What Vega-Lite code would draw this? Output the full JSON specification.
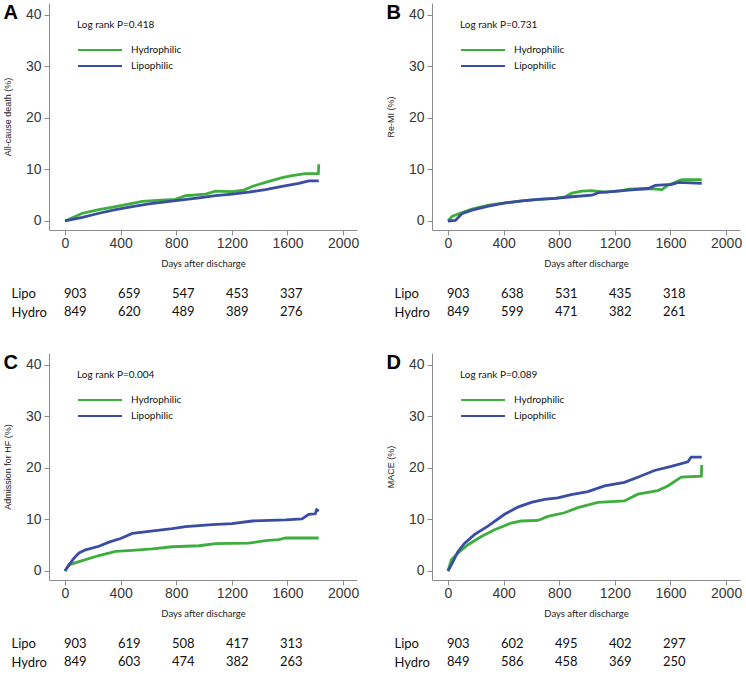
{
  "$schema": "https://vega.github.io/schema/vega-lite/v6.json",
  "padding": {"left": 3, "top": 3, "right": 0, "bottom": 0},
  "columns": 2,
  "spacing": {"row": 40, "column": 75},
  "bounds": "flush",
  "resolve": {"scale": {"color": "independent"}, "legend": {"color": "independent"}},
  "config": {
    "view": {"stroke": null},
    "font": "Lato",
    "axis": {"grid": false, "domainColor": "#8c8c8c", "tickColor": "#8c8c8c", "tickSize": 5, "labelFont": "Liberation Sans", "labelFontSize": 14, "labelColor": "#383838", "labelFlush": false, "labelOverlap": false, "titleFontWeight": "normal", "titleColor": "#222"},
    "axisX": {"labelPadding": 1, "titleFont": "Lato", "titleFontSize": 9.5, "titlePadding": 8, "format": "d"},
    "axisY": {"labelPadding": 3, "titleFont": "Liberation Sans", "titleFontSize": 9, "titlePadding": 13},
    "legend": {"orient": "none", "legendX": 28, "legendY": 17, "symbolType": "stroke", "symbolSize": 1936, "symbolStrokeWidth": 2, "clipHeight": 16, "rowPadding": 0, "padding": 0, "labelOffset": 8, "labelFont": "Lato", "labelFontSize": 10, "labelColor": "#111", "titleFont": "Lato", "titleFontSize": 10, "titleFontWeight": "normal", "titleColor": "#111", "titlePadding": 12},
    "title": {"anchor": "start", "frame": "bounds", "font": "Liberation Sans", "fontSize": 20, "fontWeight": "bold", "color": "#000", "offset": 0}
  },
  "datasets": {
    "km": [
      {"p":"A","g":"Hydrophilic","d":0,"v":0},{"p":"A","g":"Hydrophilic","d":125,"v":1.5},{"p":"A","g":"Hydrophilic","d":244,"v":2.2},{"p":"A","g":"Hydrophilic","d":364,"v":2.8},{"p":"A","g":"Hydrophilic","d":484,"v":3.4},{"p":"A","g":"Hydrophilic","d":556,"v":3.8},{"p":"A","g":"Hydrophilic","d":723,"v":4.1},{"p":"A","g":"Hydrophilic","d":795,"v":4.2},{"p":"A","g":"Hydrophilic","d":867,"v":4.9},{"p":"A","g":"Hydrophilic","d":1011,"v":5.2},{"p":"A","g":"Hydrophilic","d":1083,"v":5.8},{"p":"A","g":"Hydrophilic","d":1202,"v":5.7},{"p":"A","g":"Hydrophilic","d":1286,"v":6.0},{"p":"A","g":"Hydrophilic","d":1346,"v":6.7},{"p":"A","g":"Hydrophilic","d":1442,"v":7.5},{"p":"A","g":"Hydrophilic","d":1562,"v":8.4},{"p":"A","g":"Hydrophilic","d":1633,"v":8.8},{"p":"A","g":"Hydrophilic","d":1729,"v":9.2},{"p":"A","g":"Hydrophilic","d":1822,"v":9.2},{"p":"A","g":"Hydrophilic","d":1825,"v":11.0},
      {"p":"A","g":"Lipophilic","d":0,"v":0},{"p":"A","g":"Lipophilic","d":125,"v":0.7},{"p":"A","g":"Lipophilic","d":244,"v":1.5},{"p":"A","g":"Lipophilic","d":364,"v":2.2},{"p":"A","g":"Lipophilic","d":484,"v":2.8},{"p":"A","g":"Lipophilic","d":604,"v":3.3},{"p":"A","g":"Lipophilic","d":723,"v":3.7},{"p":"A","g":"Lipophilic","d":843,"v":4.1},{"p":"A","g":"Lipophilic","d":963,"v":4.5},{"p":"A","g":"Lipophilic","d":1083,"v":4.9},{"p":"A","g":"Lipophilic","d":1202,"v":5.2},{"p":"A","g":"Lipophilic","d":1322,"v":5.6},{"p":"A","g":"Lipophilic","d":1442,"v":6.1},{"p":"A","g":"Lipophilic","d":1562,"v":6.7},{"p":"A","g":"Lipophilic","d":1681,"v":7.3},{"p":"A","g":"Lipophilic","d":1753,"v":7.8},{"p":"A","g":"Lipophilic","d":1825,"v":7.8},
      {"p":"B","g":"Hydrophilic","d":0,"v":0},{"p":"B","g":"Hydrophilic","d":29,"v":0.9},{"p":"B","g":"Hydrophilic","d":77,"v":1.4},{"p":"B","g":"Hydrophilic","d":172,"v":2.3},{"p":"B","g":"Hydrophilic","d":292,"v":3.1},{"p":"B","g":"Hydrophilic","d":412,"v":3.5},{"p":"B","g":"Hydrophilic","d":532,"v":3.9},{"p":"B","g":"Hydrophilic","d":651,"v":4.2},{"p":"B","g":"Hydrophilic","d":771,"v":4.4},{"p":"B","g":"Hydrophilic","d":843,"v":4.7},{"p":"B","g":"Hydrophilic","d":891,"v":5.4},{"p":"B","g":"Hydrophilic","d":963,"v":5.8},{"p":"B","g":"Hydrophilic","d":1035,"v":5.9},{"p":"B","g":"Hydrophilic","d":1131,"v":5.6},{"p":"B","g":"Hydrophilic","d":1250,"v":5.9},{"p":"B","g":"Hydrophilic","d":1298,"v":6.2},{"p":"B","g":"Hydrophilic","d":1442,"v":6.3},{"p":"B","g":"Hydrophilic","d":1538,"v":6.1},{"p":"B","g":"Hydrophilic","d":1586,"v":7.0},{"p":"B","g":"Hydrophilic","d":1681,"v":8.0},{"p":"B","g":"Hydrophilic","d":1825,"v":8.0},
      {"p":"B","g":"Lipophilic","d":0,"v":0},{"p":"B","g":"Lipophilic","d":53,"v":0.1},{"p":"B","g":"Lipophilic","d":100,"v":1.4},{"p":"B","g":"Lipophilic","d":172,"v":2.1},{"p":"B","g":"Lipophilic","d":292,"v":2.9},{"p":"B","g":"Lipophilic","d":412,"v":3.5},{"p":"B","g":"Lipophilic","d":532,"v":3.9},{"p":"B","g":"Lipophilic","d":651,"v":4.2},{"p":"B","g":"Lipophilic","d":771,"v":4.4},{"p":"B","g":"Lipophilic","d":891,"v":4.7},{"p":"B","g":"Lipophilic","d":1035,"v":5.0},{"p":"B","g":"Lipophilic","d":1083,"v":5.5},{"p":"B","g":"Lipophilic","d":1178,"v":5.7},{"p":"B","g":"Lipophilic","d":1298,"v":6.0},{"p":"B","g":"Lipophilic","d":1442,"v":6.3},{"p":"B","g":"Lipophilic","d":1490,"v":6.9},{"p":"B","g":"Lipophilic","d":1610,"v":7.1},{"p":"B","g":"Lipophilic","d":1657,"v":7.5},{"p":"B","g":"Lipophilic","d":1825,"v":7.3},
      {"p":"C","g":"Hydrophilic","d":0,"v":0},{"p":"C","g":"Hydrophilic","d":29,"v":1.2},{"p":"C","g":"Hydrophilic","d":101,"v":1.8},{"p":"C","g":"Hydrophilic","d":244,"v":3.0},{"p":"C","g":"Hydrophilic","d":364,"v":3.8},{"p":"C","g":"Hydrophilic","d":484,"v":4.0},{"p":"C","g":"Hydrophilic","d":628,"v":4.3},{"p":"C","g":"Hydrophilic","d":771,"v":4.7},{"p":"C","g":"Hydrophilic","d":963,"v":4.9},{"p":"C","g":"Hydrophilic","d":1083,"v":5.3},{"p":"C","g":"Hydrophilic","d":1322,"v":5.4},{"p":"C","g":"Hydrophilic","d":1442,"v":5.9},{"p":"C","g":"Hydrophilic","d":1538,"v":6.1},{"p":"C","g":"Hydrophilic","d":1586,"v":6.4},{"p":"C","g":"Hydrophilic","d":1825,"v":6.4},
      {"p":"C","g":"Lipophilic","d":0,"v":0},{"p":"C","g":"Lipophilic","d":29,"v":1.2},{"p":"C","g":"Lipophilic","d":65,"v":2.5},{"p":"C","g":"Lipophilic","d":101,"v":3.5},{"p":"C","g":"Lipophilic","d":148,"v":4.1},{"p":"C","g":"Lipophilic","d":244,"v":4.8},{"p":"C","g":"Lipophilic","d":316,"v":5.6},{"p":"C","g":"Lipophilic","d":400,"v":6.3},{"p":"C","g":"Lipophilic","d":484,"v":7.3},{"p":"C","g":"Lipophilic","d":604,"v":7.7},{"p":"C","g":"Lipophilic","d":771,"v":8.2},{"p":"C","g":"Lipophilic","d":867,"v":8.6},{"p":"C","g":"Lipophilic","d":1059,"v":9.0},{"p":"C","g":"Lipophilic","d":1202,"v":9.2},{"p":"C","g":"Lipophilic","d":1346,"v":9.7},{"p":"C","g":"Lipophilic","d":1586,"v":9.9},{"p":"C","g":"Lipophilic","d":1705,"v":10.1},{"p":"C","g":"Lipophilic","d":1753,"v":11.0},{"p":"C","g":"Lipophilic","d":1800,"v":11.1},{"p":"C","g":"Lipophilic","d":1810,"v":11.9},{"p":"C","g":"Lipophilic","d":1825,"v":11.6},
      {"p":"D","g":"Hydrophilic","d":0,"v":0},{"p":"D","g":"Hydrophilic","d":24,"v":2.2},{"p":"D","g":"Hydrophilic","d":72,"v":3.5},{"p":"D","g":"Hydrophilic","d":144,"v":5.1},{"p":"D","g":"Hydrophilic","d":240,"v":6.7},{"p":"D","g":"Hydrophilic","d":335,"v":8.0},{"p":"D","g":"Hydrophilic","d":455,"v":9.3},{"p":"D","g":"Hydrophilic","d":527,"v":9.7},{"p":"D","g":"Hydrophilic","d":647,"v":9.8},{"p":"D","g":"Hydrophilic","d":719,"v":10.6},{"p":"D","g":"Hydrophilic","d":838,"v":11.3},{"p":"D","g":"Hydrophilic","d":934,"v":12.3},{"p":"D","g":"Hydrophilic","d":1078,"v":13.3},{"p":"D","g":"Hydrophilic","d":1269,"v":13.6},{"p":"D","g":"Hydrophilic","d":1365,"v":14.9},{"p":"D","g":"Hydrophilic","d":1509,"v":15.6},{"p":"D","g":"Hydrophilic","d":1581,"v":16.5},{"p":"D","g":"Hydrophilic","d":1677,"v":18.2},{"p":"D","g":"Hydrophilic","d":1822,"v":18.4},{"p":"D","g":"Hydrophilic","d":1825,"v":20.6},
      {"p":"D","g":"Lipophilic","d":0,"v":0},{"p":"D","g":"Lipophilic","d":36,"v":1.8},{"p":"D","g":"Lipophilic","d":72,"v":3.8},{"p":"D","g":"Lipophilic","d":120,"v":5.4},{"p":"D","g":"Lipophilic","d":192,"v":7.1},{"p":"D","g":"Lipophilic","d":287,"v":8.7},{"p":"D","g":"Lipophilic","d":407,"v":11.0},{"p":"D","g":"Lipophilic","d":503,"v":12.4},{"p":"D","g":"Lipophilic","d":599,"v":13.3},{"p":"D","g":"Lipophilic","d":695,"v":13.9},{"p":"D","g":"Lipophilic","d":790,"v":14.2},{"p":"D","g":"Lipophilic","d":886,"v":14.8},{"p":"D","g":"Lipophilic","d":1006,"v":15.4},{"p":"D","g":"Lipophilic","d":1126,"v":16.5},{"p":"D","g":"Lipophilic","d":1269,"v":17.2},{"p":"D","g":"Lipophilic","d":1365,"v":18.2},{"p":"D","g":"Lipophilic","d":1485,"v":19.5},{"p":"D","g":"Lipophilic","d":1605,"v":20.3},{"p":"D","g":"Lipophilic","d":1725,"v":21.2},{"p":"D","g":"Lipophilic","d":1749,"v":22.1},{"p":"D","g":"Lipophilic","d":1825,"v":22.1}
    ],
    "risk": [
      {"p":"A","g":"Lipo","d":0,"n":903},{"p":"A","g":"Lipo","d":400,"n":659},{"p":"A","g":"Lipo","d":800,"n":547},{"p":"A","g":"Lipo","d":1200,"n":453},{"p":"A","g":"Lipo","d":1600,"n":337},
      {"p":"A","g":"Hydro","d":0,"n":849},{"p":"A","g":"Hydro","d":400,"n":620},{"p":"A","g":"Hydro","d":800,"n":489},{"p":"A","g":"Hydro","d":1200,"n":389},{"p":"A","g":"Hydro","d":1600,"n":276},
      {"p":"B","g":"Lipo","d":0,"n":903},{"p":"B","g":"Lipo","d":400,"n":638},{"p":"B","g":"Lipo","d":800,"n":531},{"p":"B","g":"Lipo","d":1200,"n":435},{"p":"B","g":"Lipo","d":1600,"n":318},
      {"p":"B","g":"Hydro","d":0,"n":849},{"p":"B","g":"Hydro","d":400,"n":599},{"p":"B","g":"Hydro","d":800,"n":471},{"p":"B","g":"Hydro","d":1200,"n":382},{"p":"B","g":"Hydro","d":1600,"n":261},
      {"p":"C","g":"Lipo","d":0,"n":903},{"p":"C","g":"Lipo","d":400,"n":619},{"p":"C","g":"Lipo","d":800,"n":508},{"p":"C","g":"Lipo","d":1200,"n":417},{"p":"C","g":"Lipo","d":1600,"n":313},
      {"p":"C","g":"Hydro","d":0,"n":849},{"p":"C","g":"Hydro","d":400,"n":603},{"p":"C","g":"Hydro","d":800,"n":474},{"p":"C","g":"Hydro","d":1200,"n":382},{"p":"C","g":"Hydro","d":1600,"n":263},
      {"p":"D","g":"Lipo","d":0,"n":903},{"p":"D","g":"Lipo","d":400,"n":602},{"p":"D","g":"Lipo","d":800,"n":495},{"p":"D","g":"Lipo","d":1200,"n":402},{"p":"D","g":"Lipo","d":1600,"n":297},
      {"p":"D","g":"Hydro","d":0,"n":849},{"p":"D","g":"Hydro","d":400,"n":586},{"p":"D","g":"Hydro","d":800,"n":458},{"p":"D","g":"Hydro","d":1200,"n":369},{"p":"D","g":"Hydro","d":1600,"n":250}
    ]
  },
  "concat": [
    {
      "width": 308, "height": 227,
      "title": {"text": "A", "dy": 24},
      "data": {"name": "km"},
      "transform": [{"filter": "datum.p == 'A'"}],
      "mark": {"type": "line", "strokeWidth": 2.8},
      "encoding": {
        "x": {"field": "d", "type": "quantitative", "scale": {"domain": [-115, 2100], "nice": false, "zero": false}, "axis": {"values": [0, 400, 800, 1200, 1600, 2000], "title": "Days after discharge"}},
        "y": {"field": "v", "type": "quantitative", "scale": {"domain": [-1.75, 42.3], "nice": false, "zero": false}, "axis": {"values": [0, 10, 20, 30, 40], "title": "All-cause death (%)"}},
        "color": {"field": "g", "type": "nominal", "scale": {"domain": ["Hydrophilic", "Lipophilic"], "range": ["#3dae3d", "#3b4da3"]}, "legend": {"title": "Log rank P=0.418"}}
      }
    },
    {
      "width": 308, "height": 227,
      "title": {"text": "B", "dy": 24},
      "data": {"name": "km"},
      "transform": [{"filter": "datum.p == 'B'"}],
      "mark": {"type": "line", "strokeWidth": 2.8},
      "encoding": {
        "x": {"field": "d", "type": "quantitative", "scale": {"domain": [-115, 2100], "nice": false, "zero": false}, "axis": {"values": [0, 400, 800, 1200, 1600, 2000], "title": "Days after discharge"}},
        "y": {"field": "v", "type": "quantitative", "scale": {"domain": [-1.75, 42.3], "nice": false, "zero": false}, "axis": {"values": [0, 10, 20, 30, 40], "title": "Re-MI (%)"}},
        "color": {"field": "g", "type": "nominal", "scale": {"domain": ["Hydrophilic", "Lipophilic"], "range": ["#3dae3d", "#3b4da3"]}, "legend": {"title": "Log rank P=0.731"}}
      }
    },
    {
      "width": 308, "height": 43,
      "data": {"name": "risk"},
      "transform": [{"filter": "datum.p == 'A'"}],
      "mark": {"type": "text", "align": "left", "baseline": "middle", "font": "Lato", "fontSize": 13, "color": "#111"},
      "encoding": {
        "x": {"field": "d", "type": "quantitative", "scale": {"domain": [-111, 2170], "nice": false, "zero": false}, "axis": null},
        "y": {"field": "g", "type": "ordinal", "scale": {"type": "point", "domain": ["Lipo", "Hydro"], "padding": 0.694, "align": 0.96}, "axis": {"title": null, "domain": false, "ticks": false, "tickSize": 0, "labelAlign": "left", "labelPadding": 38, "labelFont": "Lato", "labelFontSize": 13, "labelColor": "#111"}},
        "text": {"field": "n", "type": "quantitative"}
      }
    },
    {
      "width": 308, "height": 43,
      "data": {"name": "risk"},
      "transform": [{"filter": "datum.p == 'B'"}],
      "mark": {"type": "text", "align": "left", "baseline": "middle", "font": "Lato", "fontSize": 13, "color": "#111"},
      "encoding": {
        "x": {"field": "d", "type": "quantitative", "scale": {"domain": [-111, 2170], "nice": false, "zero": false}, "axis": null},
        "y": {"field": "g", "type": "ordinal", "scale": {"type": "point", "domain": ["Lipo", "Hydro"], "padding": 0.694, "align": 0.96}, "axis": {"title": null, "domain": false, "ticks": false, "tickSize": 0, "labelAlign": "left", "labelPadding": 38, "labelFont": "Lato", "labelFontSize": 13, "labelColor": "#111"}},
        "text": {"field": "n", "type": "quantitative"}
      }
    },
    {
      "width": 308, "height": 227,
      "title": {"text": "C", "dy": 24},
      "data": {"name": "km"},
      "transform": [{"filter": "datum.p == 'C'"}],
      "mark": {"type": "line", "strokeWidth": 2.8},
      "encoding": {
        "x": {"field": "d", "type": "quantitative", "scale": {"domain": [-115, 2100], "nice": false, "zero": false}, "axis": {"values": [0, 400, 800, 1200, 1600, 2000], "title": "Days after discharge"}},
        "y": {"field": "v", "type": "quantitative", "scale": {"domain": [-1.75, 42.3], "nice": false, "zero": false}, "axis": {"values": [0, 10, 20, 30, 40], "title": "Admission for HF (%)"}},
        "color": {"field": "g", "type": "nominal", "scale": {"domain": ["Hydrophilic", "Lipophilic"], "range": ["#3dae3d", "#3b4da3"]}, "legend": {"title": "Log rank P=0.004"}}
      }
    },
    {
      "width": 308, "height": 227,
      "title": {"text": "D", "dy": 24},
      "data": {"name": "km"},
      "transform": [{"filter": "datum.p == 'D'"}],
      "mark": {"type": "line", "strokeWidth": 2.8},
      "encoding": {
        "x": {"field": "d", "type": "quantitative", "scale": {"domain": [-115, 2100], "nice": false, "zero": false}, "axis": {"values": [0, 400, 800, 1200, 1600, 2000], "title": "Days after discharge"}},
        "y": {"field": "v", "type": "quantitative", "scale": {"domain": [-1.75, 42.3], "nice": false, "zero": false}, "axis": {"values": [0, 10, 20, 30, 40], "title": "MACE (%)"}},
        "color": {"field": "g", "type": "nominal", "scale": {"domain": ["Hydrophilic", "Lipophilic"], "range": ["#3dae3d", "#3b4da3"]}, "legend": {"title": "Log rank P=0.089"}}
      }
    },
    {
      "width": 308, "height": 43,
      "data": {"name": "risk"},
      "transform": [{"filter": "datum.p == 'C'"}],
      "mark": {"type": "text", "align": "left", "baseline": "middle", "font": "Lato", "fontSize": 13, "color": "#111"},
      "encoding": {
        "x": {"field": "d", "type": "quantitative", "scale": {"domain": [-111, 2170], "nice": false, "zero": false}, "axis": null},
        "y": {"field": "g", "type": "ordinal", "scale": {"type": "point", "domain": ["Lipo", "Hydro"], "padding": 0.694, "align": 0.96}, "axis": {"title": null, "domain": false, "ticks": false, "tickSize": 0, "labelAlign": "left", "labelPadding": 38, "labelFont": "Lato", "labelFontSize": 13, "labelColor": "#111"}},
        "text": {"field": "n", "type": "quantitative"}
      }
    },
    {
      "width": 308, "height": 43,
      "data": {"name": "risk"},
      "transform": [{"filter": "datum.p == 'D'"}],
      "mark": {"type": "text", "align": "left", "baseline": "middle", "font": "Lato", "fontSize": 13, "color": "#111"},
      "encoding": {
        "x": {"field": "d", "type": "quantitative", "scale": {"domain": [-111, 2170], "nice": false, "zero": false}, "axis": null},
        "y": {"field": "g", "type": "ordinal", "scale": {"type": "point", "domain": ["Lipo", "Hydro"], "padding": 0.694, "align": 0.96}, "axis": {"title": null, "domain": false, "ticks": false, "tickSize": 0, "labelAlign": "left", "labelPadding": 38, "labelFont": "Lato", "labelFontSize": 13, "labelColor": "#111"}},
        "text": {"field": "n", "type": "quantitative"}
      }
    }
  ]
}
